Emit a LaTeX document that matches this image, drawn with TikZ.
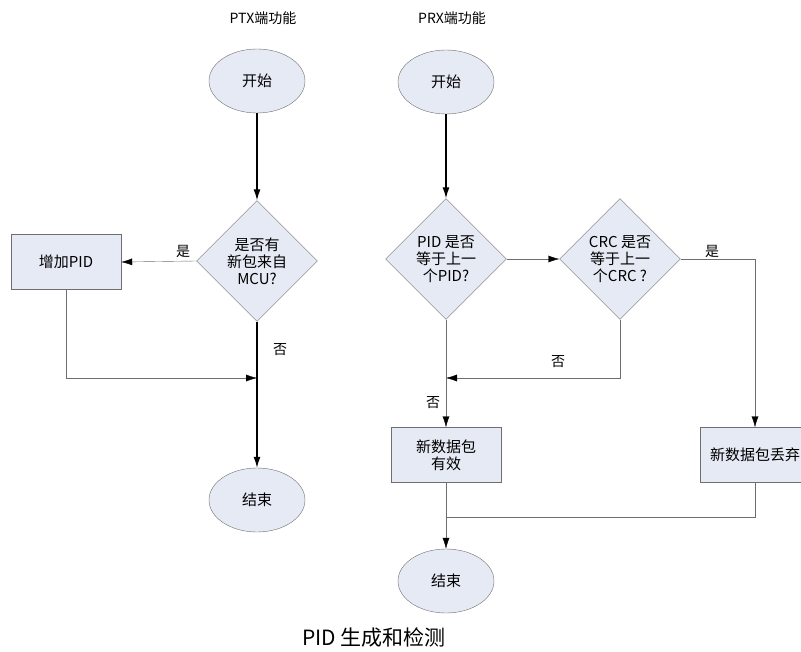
\documentclass[tikz,border=0pt]{standalone}
\usepackage{fontspec}
\newfontfamily\cjk{Noto Sans CJK SC}
\usetikzlibrary{arrows, arrows.meta, positioning, shapes.geometric}
\definecolor{shapefill}{RGB}{230,234,245}
\definecolor{edgegray}{RGB}{110,110,110}

\begin{document}
\begin{tikzpicture}
    [
        x=1pt, y=-1pt, >=latex',
        every node/.style={font=\cjk\fontsize{15}{17}\selectfont},
        terminal/.style={draw=edgegray, fill=shapefill, ellipse, minimum width=96pt, minimum height=64pt, inner sep=0pt},
        decision/.style={draw=edgegray, fill=shapefill, diamond, minimum width=121pt, minimum height=121pt, inner sep=0pt, align=center},
        process/.style={draw=edgegray, fill=shapefill, minimum width=110pt, minimum height=55pt, align=center}
    ]
    \tikzstyle{line} = [draw=edgegray, -{Latex[length=11pt, width=7pt, color=black]}]
    \tikzstyle{thickline} = [draw, -{Latex[length=11pt, width=7pt]}, line width=1.2pt]
    \tikzstyle{branchlabel} = [inner sep=1pt, font=\cjk\fontsize{14}{16}\selectfont]
    \tikzstyle{heading} = [font=\cjk\fontsize{14}{16}\selectfont]

    \useasboundingbox (0,0) rectangle (801,652);

    % PTX
    \begin{scope}
        \node[heading] (ptx_title) at (263,18) {PTX端功能};
        \node[terminal] (ptx_start) at (257,81) {开始};
        \node[decision] (ptx_check) at (257,261) {是否有\\新包来自\\MCU?};
        \node[process] (ptx_add) at (66,262) {增加PID};
        \node[terminal] (ptx_end) at (257,500) {结束};
        \coordinate (ptx_join) at (257,378);

        \path[thickline] (ptx_start) -- (ptx_check);
        \path[line] (ptx_check.west) -- (ptx_add.east);
        \path[thickline] (ptx_check) -- (ptx_end);
        \path[line] (ptx_add.south) |- (ptx_join);

        \node[branchlabel] (ptx_yes) at (183,251) {是};
        \node[branchlabel] (ptx_no) at (280,350) {否};
    \end{scope}

    % PRX
    \begin{scope}
        \node[heading] (prx_title) at (452,18) {PRX端功能};
        \node[terminal] (prx_start) at (446,82) {开始};
        \node[decision] (prx_pid) at (446,259) {PID 是否\\等于上一\\个PID?};
        \node[decision] (prx_crc) at (620,259) {CRC 是否\\等于上一\\个CRC ?};
        \node[process] (prx_ok) at (446,455) {新数据包\\有效};
        \node[process] (prx_drop) at (755,455) {新数据包丢弃};
        \node[terminal] (prx_end) at (446,581) {结束};
        \coordinate (prx_join) at (446,378);
        \coordinate (prx_merge) at (446,517);

        \path[thickline] (prx_start) -- (prx_pid);
        \path[line] (prx_pid.east) -- (prx_crc.west);
        \path[line] (prx_crc.east) -| (prx_drop.north);
        \path[line] (prx_crc.south) |- (prx_join);
        \path[line] (prx_pid.south) -- (prx_ok.north);
        \path[line] (prx_ok.south) -- (prx_end.north);
        \path[draw=edgegray] (prx_drop.south) |- (prx_merge);

        \node[branchlabel] (prx_yes) at (712,251) {是};
        \node[branchlabel] (prx_crc_no) at (558,362) {否};
        \node[branchlabel] (prx_pid_no) at (433,403) {否};
    \end{scope}

    \node[font=\cjk\fontsize{21}{24}\selectfont] (caption) at (374,638) {PID 生成和检测};

\end{tikzpicture}
\end{document}
